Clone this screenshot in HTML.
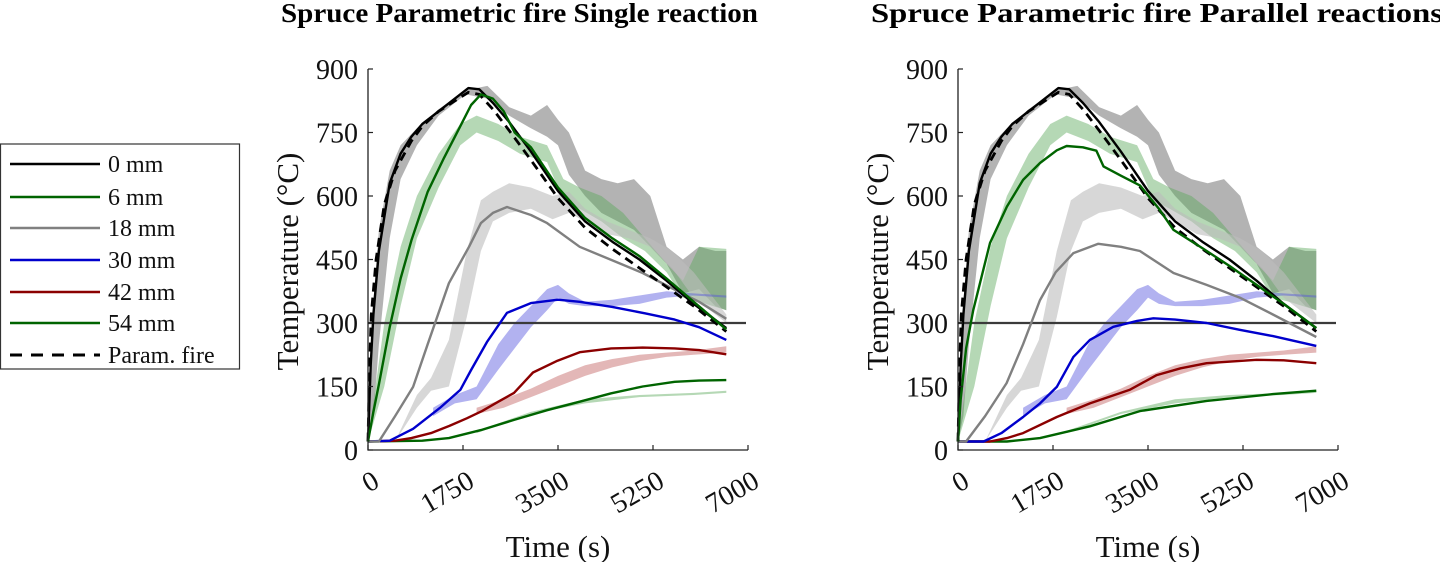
<!DOCTYPE html>
<html><head><meta charset="utf-8"><style>
html,body{margin:0;padding:0;background:#fff;}
svg{display:block;font-family:"Liberation Serif",serif;}
</style></head><body>
<svg id="chart" width="1440" height="562" viewBox="0 0 1440 562" xmlns="http://www.w3.org/2000/svg">
<g id="legend">
<rect x="0.5" y="144" width="239" height="225" fill="#fff" stroke="#333" stroke-width="1.2"/>
</g>
</svg>
<script>
// ---- shared data ----
const xTicks = [0,1750,3500,5250,7000];
const yTicks = [0,150,300,450,600,750,900];
const seriesNames = ["0 mm","6 mm","18 mm","30 mm","42 mm","54 mm","Param. fire"];
const seriesColors = ["#000000","#006400","#808080","#0000cc","#8b0000","#006400","#000000"];
const thresholdT = 300;

// experimental bands (same in both panels)
const band0T = [0,100,200,400,600,900,1300,1800,2200,2600,3000,3300,3500,3700,4000,4300,4600,4900,5200,5500,5800,6100,6400,6600];
const band0Hi = [20,350,520,660,720,760,805,850,860,810,790,815,780,750,660,640,630,640,600,480,450,480,470,470];
const band0Lo = [20,80,250,500,640,720,790,840,830,790,760,740,720,650,600,560,540,520,480,440,370,380,340,330];
const band6T = [0,300,600,900,1300,1700,2000,2400,2800,3300,3600,3900,4300,4700,5100,5500,5800,6100,6600];
const band6Hi = [20,300,480,600,700,770,790,770,740,720,640,620,600,560,500,440,400,480,475];
const band6Lo = [20,150,340,500,620,720,750,730,700,680,590,570,540,500,470,420,360,350,330];
const band18T = [500,900,1160,1490,1820,2080,2300,2600,3000,3400,3700,4000,4400,4800,5200,5600,6000,6600];
const band18Hi = [20,130,170,260,470,590,610,630,620,600,610,570,540,520,500,470,420,320];
const band18Lo = [20,100,140,150,314,470,540,560,570,545,560,540,510,500,480,430,360,300];
const band30T = [1200,1600,2000,2400,2700,3000,3300,3500,3700,4000,4500,5000,5500,6000,6600];
const band30Hi = [100,130,150,250,300,340,380,390,370,350,355,365,375,370,365];
const band30Lo = [80,110,120,190,240,290,330,360,345,340,340,345,360,365,360];
const band42T = [2000,2500,3000,3500,4000,4500,5000,5500,6000,6600];
const band42Hi = [100,120,145,175,200,215,225,230,235,245];
const band42Lo = [85,100,125,150,175,195,210,220,225,230];
const band54T = [2000,3000,4000,5000,6000,6600];
const band54Hi = [45,90,120,130,135,140];
const band54Lo = [40,85,110,125,130,135];

// model curves, shared (0 mm and parametric fire)
const s0T = [0,50,100,200,400,600,800,1000,1300,1600,1850,2050,2300,2600,3000,3500,4000,4500,5000,5500,6000,6600];
const s0V = [20,200,320,470,630,700,740,770,800,830,855,852,820,775,705,612,540,492,450,400,345,288];
const pfT = [0,30,60,150,300,500,800,1000,1300,1600,1850,2050,2300,2600,3000,3500,4000,4500,5000,5500,6000,6600];
const pfV = [20,200,320,450,580,660,730,765,800,825,845,840,805,755,685,595,525,475,430,385,340,280];

// panel 1 (single reaction)
const p1s6T = [0,100,200,400,600,800,1100,1400,1700,1900,2080,2300,2500,2700,3000,3500,4000,4500,5000,5500,6000,6600];
const p1s6V = [20,90,155,290,405,495,610,690,765,815,840,830,800,750,715,620,548,500,458,405,350,285];
const p1s18T = [0,200,500,830,1100,1490,1860,2080,2300,2560,3000,3300,3900,4480,5060,5600,6100,6600];
const p1s18V = [20,20,80,149,250,394,480,536,560,574,555,536,480,449,418,382,350,310];
const p1s30T = [0,400,830,1320,1700,1900,2190,2560,3000,3500,3900,4500,5100,5650,6100,6600];
const p1s30V = [20,22,50,99,142,189,255,324,347,355,350,338,323,308,290,260];
const p1s42T = [0,500,800,1160,1500,1820,2100,2400,2690,3040,3490,3900,4480,5060,5650,6100,6600];
const p1s42V = [20,22,28,40,57,75,92,114,135,183,211,231,240,242,240,236,226];
const p1s54T = [0,1000,1490,2080,2690,3300,3900,4480,5060,5650,6100,6600];
const p1s54V = [20,22,28,47,71,94,114,134,150,161,164,165];

// panel 2 (parallel reactions)
const p2s6T = [0,50,150,280,590,900,1200,1510,1820,2000,2300,2550,2680,3000,3350,3700,3970,4500,5000,5500,6000,6600];
const p2s6V = [20,120,240,330,489,575,638,678,708,718,715,707,670,648,625,570,520,477,435,390,345,288];
const p2s18T = [0,150,500,896,1200,1510,1800,2125,2585,3000,3350,3970,4580,5190,5800,6600];
const p2s18V = [20,20,80,158,250,354,420,465,487,480,470,418,390,360,320,267];
const p2s30T = [0,472,800,1200,1510,1820,2125,2430,2860,3300,3600,4000,4580,5190,5800,6600];
const p2s30V = [20,20,40,78,110,149,220,260,291,305,311,308,300,284,269,246];
const p2s42T = [0,590,900,1200,1820,2430,3160,3660,4100,4580,5500,6000,6600];
const p2s42V = [20,20,28,40,78,110,142,177,193,205,213,212,205];
const p2s54T = [0,900,1510,2430,3350,4580,5800,6600];
const p2s54V = [20,20,28,56,92,116,132,140];

const NS = "http://www.w3.org/2000/svg";
const svg = document.getElementById('chart');
function mk(tag, attrs, parent){
  const e = document.createElementNS(NS, tag);
  for (const k in attrs) e.setAttribute(k, attrs[k]);
  (parent||svg).appendChild(e);
  return e;
}

function panel(left, title, slug, titleLen, curves){
  const top=69, bottom=450, width=380;
  const xs = t => left + t/7000*width;
  const ys = v => bottom - v/900*(bottom-top);
  const g = mk('g', {});
  
  

  const tt = mk('text', {x:left-87, y:22, 'font-size':27, 'font-weight':'bold', textLength:titleLen, lengthAdjust:'spacingAndGlyphs'}, g);
  tt.textContent = title;
  
  

  const bands = [
    [band0T,band0Hi,band0Lo,'#808080',0.6,'band-0mm'],
    [band6T,band6Hi,band6Lo,'#5aa85a',0.45,'band-6mm'],
    [band18T,band18Hi,band18Lo,'#bdbdbd',0.6,'band-18mm'],
    [band30T,band30Hi,band30Lo,'#5555dd',0.45,'band-30mm'],
    [band42T,band42Hi,band42Lo,'#c06060',0.45,'band-42mm'],
    [band54T,band54Hi,band54Lo,'#5aa85a',0.45,'band-54mm']
  ];
  bands.forEach(b=>{
    let d='';
    b[0].forEach((t,i)=>{ d += (i?'L':'M')+xs(t).toFixed(1)+','+ys(b[1][i]).toFixed(1); });
    for(let i=b[0].length-1;i>=0;i--) d += 'L'+xs(b[0][i]).toFixed(1)+','+ys(b[2][i]).toFixed(1);
    const p = mk('path', {d:d+'Z', fill:b[3], 'fill-opacity':b[4], stroke:'none'}, g);
    
    
  });

  const hl = mk('line', {x1:left, x2:left+width-2, y1:ys(thresholdT), y2:ys(thresholdT), stroke:'#3a3a3a', 'stroke-width':2.2}, g);
  
  

  curves.forEach(c=>{
    const d = c.t.map((t,i)=>(i?'L':'M')+xs(t).toFixed(1)+','+ys(c.v[i]).toFixed(1)).join('');
    const attrs = {d:d, fill:'none', stroke:seriesColors[c.k], 'stroke-width':2.4, 'stroke-linejoin':'round'};
    if (c.k===6){ attrs['stroke-dasharray']='9,6'; attrs['stroke-width']=2.8; }
    const p = mk('path', attrs, g);
    
    
  });

  const ax = mk('path', {d:`M${left},${top}V${bottom}H${left+width}`, fill:'none', stroke:'#222', 'stroke-width':1.3}, g);
  
  
  yTicks.forEach(v=>{
    mk('line', {x1:left, x2:left+5, y1:ys(v), y2:ys(v), stroke:'#222', 'stroke-width':1.2}, g);
    const tx = mk('text', {x:left-10, y:ys(v)+10, 'font-size':28, 'text-anchor':'end', fill:'#111'}, g);
    tx.textContent = v;
    
    
  });
  xTicks.forEach(v=>{
    mk('line', {x1:xs(v), x2:xs(v), y1:bottom, y2:bottom-5, stroke:'#222', 'stroke-width':1.2}, g);
    const x0 = xs(v)+13, y0 = bottom+36;
    const tx = mk('text', {x:x0, y:y0, 'font-size':28, 'text-anchor':'end', fill:'#111', transform:`rotate(-30 ${x0} ${y0})`}, g);
    tx.textContent = v;
    
    
  });
  const xl = mk('text', {x:left+width/2, y:557, 'font-size':31, 'text-anchor':'middle', fill:'#111'}, g);
  xl.textContent = 'Time (s)';
  
  
  const yl = mk('text', {x:0, y:0, 'font-size':31, 'text-anchor':'middle', fill:'#111', transform:`translate(${left-70},${(top+bottom)/2+2}) rotate(-90)`}, g);
  yl.textContent = 'Temperature (°C)';
  
  
}

panel(368, 'Spruce Parametric fire Single reaction', 'single-reaction', 477, [
  {k:5,t:p1s54T,v:p1s54V},{k:4,t:p1s42T,v:p1s42V},{k:3,t:p1s30T,v:p1s30V},
  {k:2,t:p1s18T,v:p1s18V},{k:6,t:pfT,v:pfV},{k:0,t:s0T,v:s0V},{k:1,t:p1s6T,v:p1s6V}
]);
panel(958, 'Spruce Parametric fire Parallel reactions', 'parallel-reactions', 572, [
  {k:5,t:p2s54T,v:p2s54V},{k:4,t:p2s42T,v:p2s42V},{k:3,t:p2s30T,v:p2s30V},
  {k:2,t:p2s18T,v:p2s18V},{k:6,t:pfT,v:pfV},{k:0,t:s0T,v:s0V},{k:1,t:p2s6T,v:p2s6V}
]);

const leg = document.getElementById('legend');
const legY = [164,197,228,260,292,323,355];
seriesNames.forEach((n,i)=>{
  const ge = mk('g', {}, leg);
  
  
  const la = {x1:10, x2:100, y1:legY[i], y2:legY[i], stroke:seriesColors[i], 'stroke-width':2.6};
  if (i===6){ la['stroke-dasharray']='12,9'; la['stroke-width']=3; }
  mk('line', la, ge);
  const tx = mk('text', {x:108, y:legY[i]+8, 'font-size':24, fill:'#111'}, ge);
  tx.textContent = n;
});
</script>
</body></html>
